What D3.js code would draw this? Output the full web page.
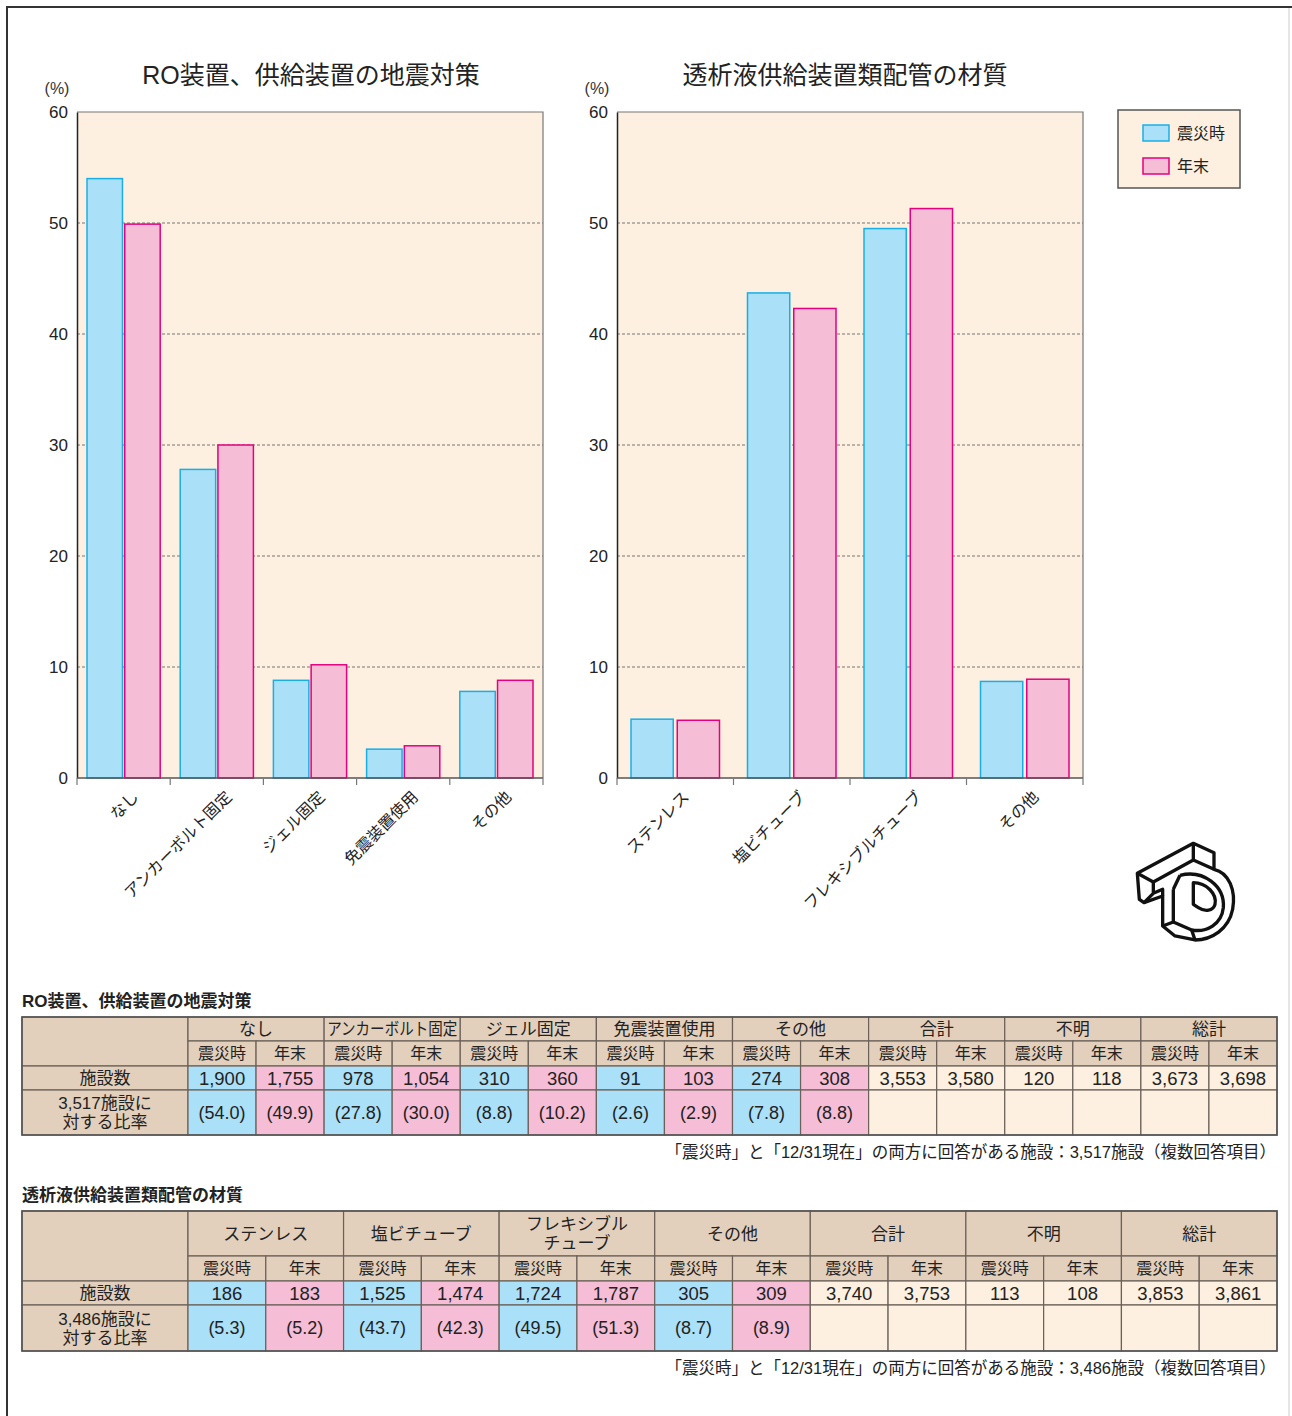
<!DOCTYPE html>
<html>
<head>
<meta charset="utf-8">
<script src="https://cdn.jsdelivr.net/npm/d3@7"></script>
<style>
body { margin: 0; background: #fff; }
svg { display: block; font-family: "Liberation Sans", "Noto Sans CJK JP", sans-serif; }
</style>
</head>
<body>
<div id="chart"></div>
<script>
// chart data
var cats1 = ['なし', 'アンカーボルト固定', 'ジェル固定', '免震装置使用', 'その他'];
var quake1 = [54.0, 27.8, 8.8, 2.6, 7.8];
var year1 = [49.9, 30.0, 10.2, 2.9, 8.8];

var cats2 = ['ステンレス', '塩ビチューブ', 'フレキシブルチューブ', 'その他'];
var quake2 = [5.3, 43.7, 49.5, 8.7];
var year2 = [5.2, 42.3, 51.3, 8.9];

var yTicks = [0, 10, 20, 30, 40, 50, 60];
var seriesNames = ['震災時', '年末'];

// table data
var heads1 = ['なし', 'アンカーボルト固定', 'ジェル固定', '免震装置使用', 'その他', '合計', '不明', '総計'];
var counts1 = [1900, 1755, 978, 1054, 310, 360, 91, 103, 274, 308, 3553, 3580, 120, 118, 3673, 3698];
var heads2 = ['ステンレス', '塩ビチューブ', 'フレキシブル|チューブ', 'その他', '合計', '不明', '総計'];
var counts2 = [186, 183, 1525, 1474, 1724, 1787, 305, 309, 3740, 3753, 113, 108, 3853, 3861];

var W = 1292, H = 1416;
var blueFill = '#abe0f9', blueLine = '#1aaee6';
var pinkFill = '#f6bdd6', pinkLine = '#e4007f';
var cream = '#fdf0e0', tan = '#e2cfbc', ink = '#222';

var svg = d3.select('#chart')
            .append('svg')
            .attr('width', W)
            .attr('height', H);

// page frame
svg.append('path')
    .attr('d', 'M7,1416 V7 H1292')
    .attr('fill', 'none')
    .attr('stroke', '#333')
    .attr('stroke-width', 2);
svg.append('line')
    .attr('x1', 1289).attr('x2', 1289).attr('y1', 8).attr('y2', 1416)
    .attr('stroke', '#ccc');

function drawBars(opt) {
    var g = svg.append('g');
    var y = d3.scaleLinear().domain([0, 60]).range([778, 112]);
    var x0 = d3.scaleBand().domain(opt.cats).range([opt.left, opt.right]);
    var x1 = d3.scaleBand().domain([0, 1])
        .range([opt.pad, x0.bandwidth() - opt.pad])
        .paddingInner(opt.gap);

    g.append('rect')
        .attr('x', opt.left).attr('y', y(60))
        .attr('width', opt.right - opt.left).attr('height', y(0) - y(60))
        .attr('fill', cream);

    // dashed grid
    g.selectAll('.grid')
        .data(yTicks.filter(function(d) { return d > 0 && d < 60; }))
        .enter()
        .append('line')
        .attr('x1', opt.left).attr('x2', opt.right)
        .attr('y1', function(d) { return y(d); })
        .attr('y2', function(d) { return y(d); })
        .attr('stroke', '#555')
        .attr('stroke-width', 0.8)
        .attr('stroke-dasharray', '3,2');

    // top + right border
    g.append('path')
        .attr('d', 'M' + opt.left + ',' + y(60) + ' H' + opt.right + ' V' + y(0))
        .attr('fill', 'none')
        .attr('stroke', '#777')
        .attr('stroke-width', 1.2);

    var series = [opt.a, opt.b];
    var fills = [blueFill, pinkFill], lines = [blueLine, pinkLine];
    series.forEach(function(vals, s) {
        g.selectAll('.bar' + s)
            .data(vals)
            .enter()
            .append('rect')
            .attr('x', function(d, i) { return x0(opt.cats[i]) + x1(s); })
            .attr('y', function(d) { return y(d); })
            .attr('width', x1.bandwidth())
            .attr('height', function(d) { return y(0) - y(d); })
            .attr('fill', fills[s])
            .attr('stroke', lines[s])
            .attr('stroke-width', 1.5);
    });

    // y axis
    var ya = g.append('g')
        .attr('transform', 'translate(' + opt.left + ',0)')
        .call(d3.axisLeft(y).tickValues(yTicks).tickSize(0).tickPadding(9));
    ya.select('.domain').attr('stroke', '#222').attr('stroke-width', 1.5);
    ya.selectAll('text').attr('font-size', 17).attr('fill', ink);

    // bottom axis with ticks at category edges
    g.append('line')
        .attr('x1', opt.left).attr('x2', opt.right)
        .attr('y1', y(0)).attr('y2', y(0))
        .attr('stroke', '#555').attr('stroke-width', 1.5);
    var edges = opt.cats.map(function(c) { return x0(c); }).concat([opt.right]);
    g.selectAll('.tk')
        .data(edges)
        .enter()
        .append('line')
        .attr('x1', function(d) { return d; }).attr('x2', function(d) { return d; })
        .attr('y1', y(0)).attr('y2', y(0) + 7)
        .attr('stroke', '#777').attr('stroke-width', 1.2);

    g.selectAll('.xl')
        .data(opt.cats)
        .enter()
        .append('text')
        .attr('transform', function(d) {
            return 'translate(' + (x0(d) + x0.bandwidth() / 2 + opt.labelDx) + ',790) rotate(-45)';
        })
        .attr('text-anchor', 'end')
        .attr('dy', '0.7em')
        .attr('font-size', 16)
        .attr('fill', ink)
        .text(function(d) { return d; });

    g.append('text')
        .attr('x', opt.left - 20).attr('y', 94)
        .attr('text-anchor', 'middle')
        .attr('font-size', 16)
        .attr('fill', '#333')
        .text('(%)');

    g.append('text')
        .attr('x', opt.titleX).attr('y', 84)
        .attr('text-anchor', 'middle')
        .attr('font-size', 25)
        .attr('fill', ink)
        .text(opt.title);
}

drawBars({ cats: cats1, a: quake1, b: year1, left: 77, right: 543, pad: 10, gap: 0.06,
           labelDx: 8, title: 'RO装置、供給装置の地震対策', titleX: 311 });
drawBars({ cats: cats2, a: quake2, b: year2, left: 617, right: 1083, pad: 14, gap: 0.0865,
           labelDx: 7, title: '透析液供給装置類配管の材質', titleX: 845 });

// legend
var lg = svg.append('g').attr('transform', 'translate(1118,110)');
lg.append('rect')
    .attr('width', 122).attr('height', 78)
    .attr('fill', cream).attr('stroke', '#555').attr('stroke-width', 1.5);
seriesNames.forEach(function(n, i) {
    lg.append('rect')
        .attr('x', 25).attr('y', 15 + i * 33)
        .attr('width', 26).attr('height', 16)
        .attr('fill', i ? pinkFill : blueFill)
        .attr('stroke', i ? pinkLine : blueLine)
        .attr('stroke-width', 1.5);
    lg.append('text')
        .attr('x', 59).attr('y', 29 + i * 33)
        .attr('font-size', 16)
        .attr('fill', ink)
        .text(n);
});

// TD logo, traced roughly at 3x then scaled down
var logo = svg.append('g')
    .attr('transform', 'translate(1130,836) scale(0.3333)')
    .attr('fill', 'none')
    .attr('stroke', '#111')
    .attr('stroke-width', 10)
    .attr('stroke-linejoin', 'round');
logo.append('path')
    .attr('fill', '#fff')
    .attr('d', 'M22,112 L190,22 L252,50 L252,100 C298,110 318,165 308,220 C296,280 245,312 195,312 L135,300 L98,270 L98,180 L42,200 L28,190 Z');
logo.append('path').attr('d', 'M22,112 L70,138 L190,72 L190,22 M190,72 L252,100');
logo.append('path').attr('d', 'M70,138 L70,172 L42,200 M70,172 L98,160 L98,180');
logo.append('path').attr('d', 'M150,118 C220,100 285,150 280,215 C275,265 230,290 185,282 L130,258');
logo.append('path').attr('d', 'M130,160 L130,258 L98,270 M130,160 L150,118');
logo.append('path').attr('d', 'M190,140 C230,140 262,175 255,205 C250,225 225,228 205,215 L190,205 Z');
logo.append('path').attr('d', 'M185,282 L195,312');

// tables
function drawTable(opt) {
    var g = svg.append('g');
    var nCols = opt.counts.length;
    var x = d3.scaleLinear().domain([0, nCols]).range([188, 1277]);
    var rows = [opt.top];
    opt.rowH.forEach(function(h) { rows.push(rows[rows.length - 1] + h); });
    var nColored = opt.a.length * 2;

    g.append('text')
        .attr('x', 22).attr('y', opt.top - 10)
        .attr('font-size', 17).attr('font-weight', 'bold')
        .attr('fill', ink)
        .text(opt.title);

    function cell(x0, y0, w, h, fill) {
        g.append('rect')
            .attr('x', x0).attr('y', y0).attr('width', w).attr('height', h)
            .attr('fill', fill).attr('stroke', '#6b6159').attr('stroke-width', 1.2);
    }
    function label(cx, cy, lines, size, maxW) {
        var t = g.append('text')
            .attr('text-anchor', 'middle')
            .attr('font-size', size)
            .attr('fill', ink);
        lines.forEach(function(l, i) {
            var ts = t.append('tspan')
                .attr('x', cx)
                .attr('y', cy + (i - (lines.length - 1) / 2) * 19)
                .attr('dy', '0.36em')
                .text(l);
            // squeeze long headers so they stay inside their cell
            if (maxW && ts.node().getComputedTextLength() > maxW) {
                ts.attr('textLength', maxW).attr('lengthAdjust', 'spacingAndGlyphs');
            }
        });
    }

    // corner + row labels
    cell(22, rows[0], 166, rows[2] - rows[0], tan);
    cell(22, rows[2], 166, rows[3] - rows[2], tan);
    label(105, (rows[2] + rows[3]) / 2, ['施設数'], 17);
    cell(22, rows[3], 166, rows[4] - rows[3], tan);
    label(105, (rows[3] + rows[4]) / 2, [opt.base + '施設に', '対する比率'], 17);

    opt.heads.forEach(function(h, i) {
        var x0 = x(i * 2), x1 = x(i * 2 + 2);
        cell(x0, rows[0], x1 - x0, rows[1] - rows[0], tan);
        label((x0 + x1) / 2, (rows[0] + rows[1]) / 2, h.split('|'), 17, x1 - x0 - 6);
    });

    opt.counts.forEach(function(c, j) {
        var x0 = x(j), w = x(j + 1) - x(j);
        var fill = j < nColored ? (j % 2 ? pinkFill : blueFill) : cream;
        cell(x0, rows[1], w, rows[2] - rows[1], tan);
        label(x0 + w / 2, (rows[1] + rows[2]) / 2, [seriesNames[j % 2]], 16);
        cell(x0, rows[2], w, rows[3] - rows[2], fill);
        label(x0 + w / 2, (rows[2] + rows[3]) / 2, [d3.format(',')(c)], 18.5, w - 4);
        cell(x0, rows[3], w, rows[4] - rows[3], fill);
        if (j < nColored) {
            var v = (j % 2 ? opt.b : opt.a)[Math.floor(j / 2)];
            label(x0 + w / 2, (rows[3] + rows[4]) / 2, ['(' + v.toFixed(1) + ')'], 18, w - 4);
        }
    });

    g.append('rect')
        .attr('x', 22).attr('y', rows[0])
        .attr('width', 1255).attr('height', rows[4] - rows[0])
        .attr('fill', 'none').attr('stroke', '#555').attr('stroke-width', 1.6);

    g.append('text')
        .attr('x', 1276).attr('y', rows[4] + 23)
        .attr('text-anchor', 'end')
        .attr('font-size', 16.5)
        .attr('fill', ink)
        .text('「震災時」と「12/31現在」の両方に回答がある施設：' + opt.base + '施設（複数回答項目）');
}

drawTable({ top: 1017, rowH: [24, 25, 24, 45], title: 'RO装置、供給装置の地震対策',
            heads: heads1, counts: counts1, a: quake1, b: year1, base: '3,517' });
drawTable({ top: 1211, rowH: [45, 25, 24, 46], title: '透析液供給装置類配管の材質',
            heads: heads2, counts: counts2, a: quake2, b: year2, base: '3,486' });
</script>
</body>
</html>
